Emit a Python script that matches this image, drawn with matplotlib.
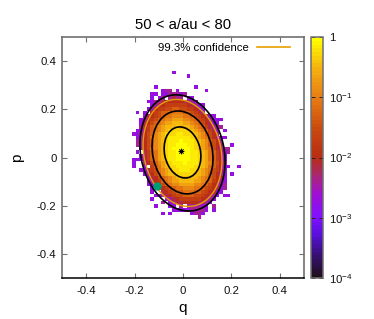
import numpy as np
import matplotlib
matplotlib.use("Agg")
import matplotlib.pyplot as plt
from matplotlib.colors import LinearSegmentedColormap, LogNorm
from matplotlib.patches import Ellipse

plt.rcParams['font.family'] = ['Liberation Sans', 'DejaVu Sans']
plt.rcParams['mathtext.fontset'] = 'custom'
plt.rcParams['mathtext.rm'] = 'Liberation Sans'

TITLE = "50 < a/au < 80"
X_LABEL = "q"
Y_LABEL = "p"
LEGEND_LABEL = "99.3% confidence"
AXIS_TICKS = [-0.4, -0.2, 0, 0.2, 0.4]
AXIS_TICK_LABELS = ["-0.4", "-0.2", "0", "0.2", "0.4"]
CBAR_TICKS = [1e-4, 1e-3, 1e-2, 1e-1, 1]
CBAR_LABELS = [r"$\mathregular{10^{-4}}$", r"$\mathregular{10^{-3}}$",
               r"$\mathregular{10^{-2}}$", r"$\mathregular{10^{-1}}$", "1"]

BIN = 0.015
COL_FIRST = -14   # bin index of the first character of each row
ROW_TOP = 23      # bin index of the first row
# log10(density) read per cell; letters index LEVEL_LOG, '.' = empty bin
LEVEL_CODES = "abcdefghijklmn"
LEVEL_LOG = [0, -0.13, -0.28, -0.46, -0.66, -0.88, -1.08, -1.3, -1.55, -1.75, -1.95, -2.15, -2.4, -2.7]
ROWS = [
    "...........n",
    "...............n",
    "",
    "",
    "......n..........n",
    "........nmm.n.......n",
    ".....nn.nnmmmnm",
    ".....n.nm.mlmm.nn",
    "....nnmmlkkkkklmmn",
    ".....nmlkjjjjjjklmnn",
    "....nmkjjiihhiijjkmn",
    ".n.n.kjihhgggghhijkm.",
    "...nlkjihggfffgghijklnn",
    "..nmkjihgffeeeffghijkmnnn",
    "..nlkihgfeedddeefghiklnn",
    "..mljhgfedddcdddefghjlmmm",
    ".nnljhgfedccccccdefghjln.n",
    "nnmkihfedcccbbcccdefhikm",
    ".nmkigfedcbbbbbbcdefgikmnn",
    ".mmkihfedcbbbabbbcdefhikm",
    ".mmkihfedcbbaaabbcdefhikm..n",
    "..mkigfedcbaaaaabcdefgikmmm",
    ".n.ljhgedcbbaaaabbcdeghjlnm",
    "..nljhgedcbbaaaabbcdeghjln",
    "nnnljhgedcbbaaaabbcdeghjln",
    "n..mkihfedcbbbabbbcdefhikm",
    "n..n.jhgedccbbbbbccdeghjlnn..n",
    "..nnljigfedccbbbccdefgijln",
    "...nmkihfeddcccccddefhikmn.n",
    "....nlkihgfeddddddefghikln",
    "....nmkjhgfeeddddeefghjkmn",
    "....nnlkihgffeeeeffghiklnm",
    ".....nnlkjihggfffgghijklnm",
    ".....n..lkjihhggghhijklnn",
    "......nnmlkjiihhhiijklmn.nn",
    ".....n...nmlkjjjjjjklmn",
    "........m.nmllkkkkllmn",
    "......n...nn.m.mmmmnn.m",
    "...........nnnnnmmmmn.n",
    "........n.n.....nmmn",
    "..................m",
]

# (centre q, centre p, half-width, half-height, correlation)
OUTER = (-0.002, 0.019, 0.176, 0.241, -0.15)
MIDDLE = (-0.002, 0.021, 0.126, 0.172, -0.15)
INNER = (-0.002, 0.021, 0.076, 0.106, -0.15)
CONFIDENCE = (-0.002, 0.019, 0.163, 0.222, -0.15)
PEAK = (-0.008, 0.027)
OBJECT = (-0.107, -0.117)

PALETTE = [(0.00, "#20101c"), (0.10, "#3a1080"), (0.18, "#5a10e0"), (0.25, "#8010ff"),
           (0.35, "#a010d0"), (0.42, "#a82878"), (0.50, "#b82c14"), (0.62, "#c84a10"),
           (0.68, "#d86012"), (0.75, "#e67c14"), (0.87, "#f4ae10"), (1.00, "#ffff00")]

GREY = "#707070"
W, H = 374, 319
L, R, T, B = 62, 304, 37, 278
fig = plt.figure(figsize=(W / 100, H / 100), dpi=100)
ax = fig.add_axes([L / W, 1 - B / H, (R - L) / W, (B - T) / H])
cax = fig.add_axes([310.5 / W, 1 - B / H, 12 / W, (B - T) / H])

ncol = max(len(r) for r in ROWS)
Z = np.full((len(ROWS), ncol), np.nan)
for i, row in enumerate(ROWS):
    for c, ch in enumerate(row):
        if ch != '.':
            Z[i, c] = 10.0 ** LEVEL_LOG[LEVEL_CODES.index(ch)]
xe = (COL_FIRST + np.arange(ncol + 1)) * BIN
ye = (ROW_TOP + 1 - np.arange(len(ROWS) + 1)) * BIN

cmap = LinearSegmentedColormap.from_list("dens", PALETTE, N=64)
norm = LogNorm(vmin=1e-4, vmax=1)
mesh = ax.pcolormesh(xe, ye, np.ma.masked_invalid(Z), cmap=cmap, norm=norm,
                     linewidth=0, rasterized=True, zorder=1)


def ell(par, **kw):
    cx, cy, sx, sy, rho = par
    cov = np.array([[sx * sx, rho * sx * sy], [rho * sx * sy, sy * sy]])
    vals, vecs = np.linalg.eigh(cov)
    ang = np.degrees(np.arctan2(vecs[1, 1], vecs[0, 1]))
    return Ellipse((cx, cy), 2 * np.sqrt(vals[1]), 2 * np.sqrt(vals[0]), angle=ang,
                   fill=False, **kw)


for par in (OUTER, MIDDLE, INNER):
    ax.add_patch(ell(par, edgecolor="black", linewidth=1.2, zorder=3))
ax.add_patch(ell(CONFIDENCE, edgecolor="#e69f00", linewidth=1.0, zorder=3))
handle, = ax.plot([], [], color="#e69f00", linewidth=1.2, label=LEGEND_LABEL)
ax.plot(*PEAK, marker=(8, 2, 0), color="black", markersize=4, markeredgewidth=0.5, zorder=4)
ax.plot(*OBJECT, marker='o', color="#009e73", markersize=6, markeredgewidth=0, zorder=4)

ax.set_xlim(-0.5, 0.5)
ax.set_ylim(-0.5, 0.5)
ax.set_xticks(AXIS_TICKS, AXIS_TICK_LABELS)
ax.set_yticks(AXIS_TICKS, AXIS_TICK_LABELS)
ax.tick_params(direction='in', length=3.6, width=0.8, color=GREY, top=True, right=True,
               labelsize=8.2, pad=4, labelcolor="#111111")
ax.tick_params(axis='x', pad=5.5)
for side in ("left", "right", "top"):
    ax.spines[side].set_color(GREY)
    ax.spines[side].set_linewidth(1.2)
ax.spines["bottom"].set_color("black")
ax.spines["bottom"].set_linewidth(1.1)
ax.set_xlabel(X_LABEL, fontsize=11, labelpad=4)
ax.set_ylabel(Y_LABEL, fontsize=11, labelpad=9)
ax.set_title(TITLE, fontsize=10.7, pad=6)
leg = ax.legend(loc="upper right", frameon=False, markerfirst=False, fontsize=8.2,
                handlelength=2.9, handletextpad=0.7, borderaxespad=0, borderpad=0,
                bbox_to_anchor=((290 - L) / (R - L), (B - 43) / (B - T)))

cb = fig.colorbar(mesh, cax=cax)
cb.set_ticks(CBAR_TICKS, labels=CBAR_LABELS)
cb.minorticks_off()
cax.tick_params(axis='y', direction='in', length=3, width=0.7, color="#222222",
                left=True, right=True, labelsize=8.2, pad=4.5, labelcolor="#111111")
cb.outline.set_edgecolor(GREY)
cb.outline.set_linewidth(1.1)

fig.savefig("out.png", dpi=100)
